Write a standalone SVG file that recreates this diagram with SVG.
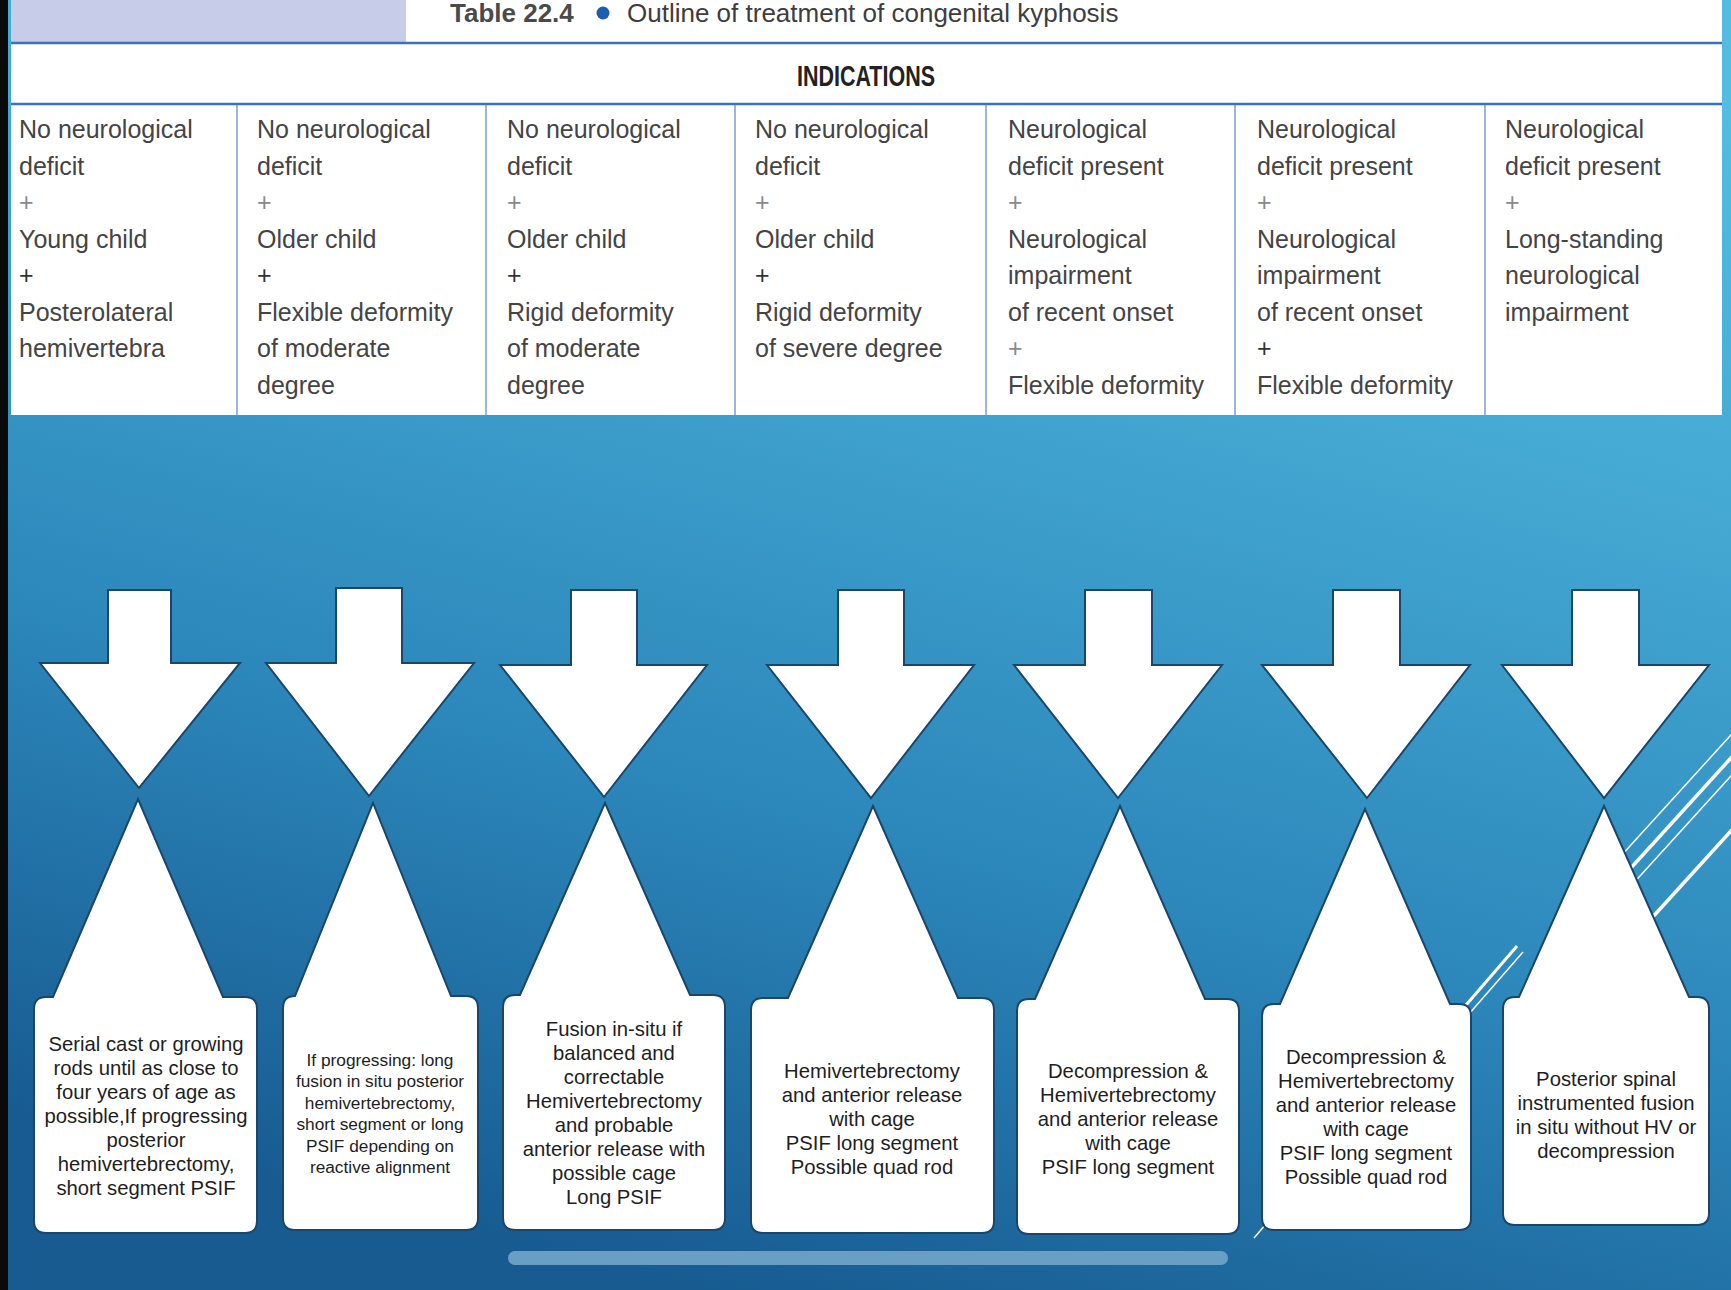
<svg xmlns="http://www.w3.org/2000/svg" width="1731" height="1290" viewBox="0 0 1731 1290">
<defs>
<linearGradient id="bg" x1="0.75" y1="0" x2="0.4" y2="1">
<stop offset="0" stop-color="#52bde0"/>
<stop offset="0.3" stop-color="#43a7d2"/>
<stop offset="0.65" stop-color="#2c87ba"/>
<stop offset="1" stop-color="#175b91"/>
</linearGradient>
<style>
.cell{font-family:"Liberation Sans",Arial,sans-serif;font-size:25px;fill:#444}
.pl{fill:#8a8a8a}
.pd{fill:#333}
.shape{fill:#fff;stroke:#1b466a;stroke-width:2;stroke-linejoin:miter}
.bt{font-family:"Liberation Sans",Arial,sans-serif;font-size:20.3px;fill:#1e1e1e;text-anchor:middle}
.bs{font-size:17.3px}
.div{stroke:#7d9bcf;stroke-width:1.5}
.hl{stroke:#3a72b8;stroke-width:2.5}
.deco{stroke:#fff;fill:none}
</style>
</defs>
<rect x="0" y="0" width="1731" height="1290" fill="url(#bg)"/>
<rect x="0" y="0" width="8" height="1290" fill="#0a0a0a"/>

<g id="decor" class="deco">
<line x1="1600" y1="879" x2="1740" y2="725" stroke-width="1.5"/>
<line x1="1600" y1="902" x2="1740" y2="748" stroke-width="3.5"/>
<line x1="1600" y1="920" x2="1740" y2="766" stroke-width="1.5"/>
<line x1="1620" y1="953" x2="1740" y2="821" stroke-width="3.5"/>
<line x1="1460" y1="1012" x2="1517" y2="946" stroke-width="3"/>
<line x1="1462" y1="1022" x2="1523" y2="952" stroke-width="1.5"/>
<line x1="1254" y1="1238" x2="1266" y2="1224" stroke-width="1.5"/>
</g>

<g id="table">
<rect x="11" y="0" width="1711" height="415" fill="#fff"/>
<rect x="11" y="0" width="395" height="43" fill="#c7cde8"/>
<g id="title">
<text x="450" y="21.5" font-family="Liberation Sans, Arial, sans-serif" font-size="26" font-weight="bold" fill="#4a4a4a">Table 22.4</text>
<circle cx="603" cy="13" r="6.5" fill="#1d5cb0"/>
<text x="627" y="21.5" font-family="Liberation Sans, Arial, sans-serif" font-size="26" fill="#3d3d3d">Outline of treatment of congenital kyphosis</text>
</g>
<line class="hl" x1="11" y1="43" x2="1722" y2="43"/>
<g id="header">
<text x="866" y="86" font-family="Liberation Sans, Arial, sans-serif" font-size="29" font-weight="bold" fill="#222" text-anchor="middle" textLength="138" lengthAdjust="spacingAndGlyphs">INDICATIONS</text>
</g>
<line class="hl" x1="11" y1="104" x2="1722" y2="104"/>
<line class="div" x1="237" y1="105" x2="237" y2="415"/>
<line class="div" x1="486" y1="105" x2="486" y2="415"/>
<line class="div" x1="735" y1="105" x2="735" y2="415"/>
<line class="div" x1="986" y1="105" x2="986" y2="415"/>
<line class="div" x1="1235" y1="105" x2="1235" y2="415"/>
<line class="div" x1="1485" y1="105" x2="1485" y2="415"/>

<g id="ind-1" class="cell">
<text x="19" y="138">No neurological</text>
<text x="19" y="174.5">deficit</text>
<text x="19" y="211" class="cell pl">+</text>
<text x="19" y="247.5">Young child</text>
<text x="19" y="284" class="cell pd">+</text>
<text x="19" y="320.5">Posterolateral</text>
<text x="19" y="357">hemivertebra</text>
</g>
<g id="ind-2" class="cell">
<text x="257" y="138">No neurological</text>
<text x="257" y="174.5">deficit</text>
<text x="257" y="211" class="cell pl">+</text>
<text x="257" y="247.5">Older child</text>
<text x="257" y="284" class="cell pd">+</text>
<text x="257" y="320.5">Flexible deformity</text>
<text x="257" y="357">of moderate</text>
<text x="257" y="393.5">degree</text>
</g>
<g id="ind-3" class="cell">
<text x="507" y="138">No neurological</text>
<text x="507" y="174.5">deficit</text>
<text x="507" y="211" class="cell pl">+</text>
<text x="507" y="247.5">Older child</text>
<text x="507" y="284" class="cell pd">+</text>
<text x="507" y="320.5">Rigid deformity</text>
<text x="507" y="357">of moderate</text>
<text x="507" y="393.5">degree</text>
</g>
<g id="ind-4" class="cell">
<text x="755" y="138">No neurological</text>
<text x="755" y="174.5">deficit</text>
<text x="755" y="211" class="cell pl">+</text>
<text x="755" y="247.5">Older child</text>
<text x="755" y="284" class="cell pd">+</text>
<text x="755" y="320.5">Rigid deformity</text>
<text x="755" y="357">of severe degree</text>
</g>
<g id="ind-5" class="cell">
<text x="1008" y="138">Neurological</text>
<text x="1008" y="174.5">deficit present</text>
<text x="1008" y="211" class="cell pl">+</text>
<text x="1008" y="247.5">Neurological</text>
<text x="1008" y="284">impairment</text>
<text x="1008" y="320.5">of recent onset</text>
<text x="1008" y="357" class="cell pl">+</text>
<text x="1008" y="393.5">Flexible deformity</text>
</g>
<g id="ind-6" class="cell">
<text x="1257" y="138">Neurological</text>
<text x="1257" y="174.5">deficit present</text>
<text x="1257" y="211" class="cell pl">+</text>
<text x="1257" y="247.5">Neurological</text>
<text x="1257" y="284">impairment</text>
<text x="1257" y="320.5">of recent onset</text>
<text x="1257" y="357" class="cell pd">+</text>
<text x="1257" y="393.5">Flexible deformity</text>
</g>
<g id="ind-7" class="cell">
<text x="1505" y="138">Neurological</text>
<text x="1505" y="174.5">deficit present</text>
<text x="1505" y="211" class="cell pl">+</text>
<text x="1505" y="247.5">Long-standing</text>
<text x="1505" y="284">neurological</text>
<text x="1505" y="320.5">impairment</text>
</g>
</g>

<g id="connectors">
<path id="arrow-1" class="shape" d="M108,590 H171 V663 H240 L139,788 L40,663 H108 Z"/>
<path id="arrow-2" class="shape" d="M336,588 H402 V663 H474 L369,796 L266,663 H336 Z"/>
<path id="arrow-3" class="shape" d="M571,590 H637 V665 H707 L604,797 L500,665 H571 Z"/>
<path id="arrow-4" class="shape" d="M838,590 H904 V665 H974 L871,798 L767,665 H838 Z"/>
<path id="arrow-5" class="shape" d="M1085,590 H1152 V665 H1222 L1118,798 L1014,665 H1085 Z"/>
<path id="arrow-6" class="shape" d="M1333,590 H1400 V665 H1470 L1367,798 L1262,665 H1333 Z"/>
<path id="arrow-7" class="shape" d="M1572,590 H1639 V665 H1709 L1604,798 L1502,665 H1572 Z"/>
</g>

<g id="box-1">
<path class="shape" d="M34,1009 Q34,997 46,997 H53 L138,799 L223,997 H245 Q257,997 257,1009 V1221 Q257,1233 245,1233 H46 Q34,1233 34,1221 Z"/>
<text class="bt" x="146" y="1051">Serial cast or growing</text>
<text class="bt" x="146" y="1075">rods until as close to</text>
<text class="bt" x="146" y="1099">four years of age as</text>
<text class="bt" x="146" y="1123">possible,If progressing</text>
<text class="bt" x="146" y="1147">posterior</text>
<text class="bt" x="146" y="1171">hemivertebrectomy,</text>
<text class="bt" x="146" y="1195">short segment PSIF</text>
</g>
<g id="box-2">
<path class="shape" d="M283,1008 Q283,996 295,996 H295 L373,803 L451,996 H466 Q478,996 478,1008 V1218 Q478,1230 466,1230 H295 Q283,1230 283,1218 Z"/>
<text class="bt bs" x="380" y="1066">If progressing: long</text>
<text class="bt bs" x="380" y="1087.4">fusion in situ posterior</text>
<text class="bt bs" x="380" y="1108.8">hemivertebrectomy,</text>
<text class="bt bs" x="380" y="1130.2">short segment or long</text>
<text class="bt bs" x="380" y="1151.6">PSIF depending on</text>
<text class="bt bs" x="380" y="1173">reactive alignment</text>
</g>
<g id="box-3">
<path class="shape" d="M503,1007 Q503,995 515,995 H520 L605,803 L690,995 H713 Q725,995 725,1007 V1218 Q725,1230 713,1230 H515 Q503,1230 503,1218 Z"/>
<text class="bt" x="614" y="1036">Fusion in-situ if</text>
<text class="bt" x="614" y="1060">balanced and</text>
<text class="bt" x="614" y="1084">correctable</text>
<text class="bt" x="614" y="1108">Hemivertebrectomy</text>
<text class="bt" x="614" y="1132">and probable</text>
<text class="bt" x="614" y="1156">anterior release with</text>
<text class="bt" x="614" y="1180">possible cage</text>
<text class="bt" x="614" y="1204">Long PSIF</text>
</g>
<g id="box-4">
<path class="shape" d="M751,1010 Q751,998 763,998 H788 L873,806 L958,998 H982 Q994,998 994,1010 V1221 Q994,1233 982,1233 H763 Q751,1233 751,1221 Z"/>
<text class="bt" x="872" y="1078">Hemivertebrectomy</text>
<text class="bt" x="872" y="1102">and anterior release</text>
<text class="bt" x="872" y="1126">with cage</text>
<text class="bt" x="872" y="1150">PSIF long segment</text>
<text class="bt" x="872" y="1174">Possible quad rod</text>
</g>
<g id="box-5">
<path class="shape" d="M1017,1011 Q1017,999 1029,999 H1035 L1120,806 L1205,999 H1227 Q1239,999 1239,1011 V1222 Q1239,1234 1227,1234 H1029 Q1017,1234 1017,1222 Z"/>
<text class="bt" x="1128" y="1078">Decompression &amp;</text>
<text class="bt" x="1128" y="1102">Hemivertebrectomy</text>
<text class="bt" x="1128" y="1126">and anterior release</text>
<text class="bt" x="1128" y="1150">with cage</text>
<text class="bt" x="1128" y="1174">PSIF long segment</text>
</g>
<g id="box-6">
<path class="shape" d="M1262,1016 Q1262,1004 1274,1004 H1280 L1365,809 L1450,1004 H1459 Q1471,1004 1471,1016 V1218 Q1471,1230 1459,1230 H1274 Q1262,1230 1262,1218 Z"/>
<text class="bt" x="1366" y="1063.5">Decompression &amp;</text>
<text class="bt" x="1366" y="1087.5">Hemivertebrectomy</text>
<text class="bt" x="1366" y="1111.5">and anterior release</text>
<text class="bt" x="1366" y="1135.5">with cage</text>
<text class="bt" x="1366" y="1159.5">PSIF long segment</text>
<text class="bt" x="1366" y="1183.5">Possible quad rod</text>
</g>
<g id="box-7">
<path class="shape" d="M1503,1009 Q1503,997 1515,997 H1519 L1604,806 L1689,997 H1697 Q1709,997 1709,1009 V1213 Q1709,1225 1697,1225 H1515 Q1503,1225 1503,1213 Z"/>
<text class="bt" x="1606" y="1085.5">Posterior spinal</text>
<text class="bt" x="1606" y="1109.5">instrumented fusion</text>
<text class="bt" x="1606" y="1133.5">in situ without HV or</text>
<text class="bt" x="1606" y="1157.5">decompression</text>
</g>

<rect id="scrollbar" x="508" y="1251" width="720" height="14" rx="7" fill="#6a9fc4"/>
</svg>
